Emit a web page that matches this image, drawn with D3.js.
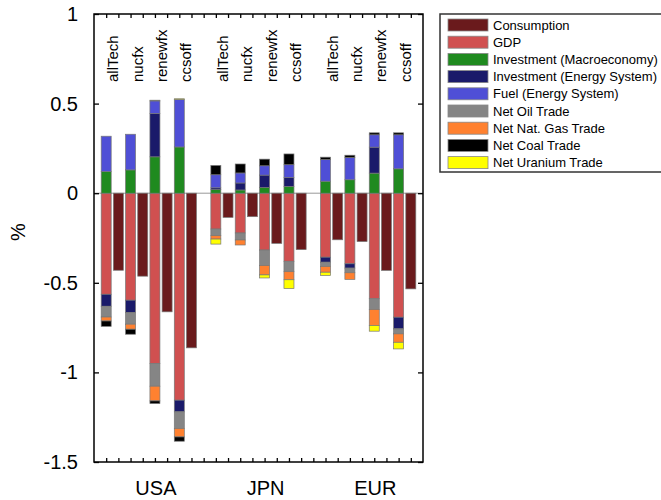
<!DOCTYPE html>
<html>
<head>
<meta charset="utf-8">
<script src="https://d3js.org/d3.v7.min.js"></script>
<style>
  body { margin: 0; background: #fff; }
  text { font-family: "Liberation Sans", Arial, sans-serif; }
</style>
</head>
<body>
<div id="chart"></div>
<script>
// regions and scenarios, values in %
const regions = ["USA", "JPN", "EUR"];
const scenarios = ["allTech", "nucfx", "renewfx", "ccsoff"];

// each array: USA x4, JPN x4, EUR x4 (scenario order as above)
const consumption  = [-0.430, -0.463, -0.662, -0.863,  -0.135, -0.131, -0.280, -0.315,  -0.260, -0.270, -0.431, -0.534];
const gdp          = [-0.564, -0.597, -0.950, -1.155,  -0.200, -0.222, -0.317, -0.380,  -0.357, -0.394, -0.589, -0.692];
const invMacro     = [ 0.121,  0.130,  0.203,  0.258,   0.020,  0.018,  0.032,  0.038,   0.067,  0.075,  0.112,  0.136];
const invEnergy    = [-0.067, -0.069,  0.242, -0.065,   0.010,  0.039,  0.069,  0.050,  -0.028, -0.024,  0.145, -0.065];
const fuel         = [ 0.197,  0.199,  0.070,  0.265,   0.073,  0.056,  0.052,  0.071,   0.121,  0.124,  0.069,  0.190];
const oilTrade     = [-0.060, -0.065, -0.127, -0.093,  -0.037, -0.039, -0.087, -0.058,  -0.024, -0.026, -0.060, -0.028];
const gasTrade     = [-0.022, -0.028, -0.082, -0.047,  -0.019, -0.028, -0.052, -0.045,  -0.032, -0.037, -0.089, -0.047];
const coalTrade    = [-0.030, -0.028, -0.015, -0.024,   0.052,  0.050,  0.037,  0.060,   0.013,  0.013,  0.011,  0.011];
const uraniumTrade = [ 0.000,  0.000,  0.004,  0.004,  -0.028,  0.000, -0.017, -0.049,  -0.018,  0.000, -0.032, -0.037];

const yTicks = [-1.5, -1, -0.5, 0, 0.5, 1];

const legendNames = ["Consumption", "GDP", "Investment (Macroeconomy)", "Investment (Energy System)",
  "Fuel (Energy System)", "Net Oil Trade", "Net Nat. Gas Trade", "Net Coal Trade", "Net Uranium Trade"];
const colors = ["#6a1a1c", "#d05050", "#1f8a1f", "#1a1a6a", "#4f4fd6", "#858585", "#ff8130", "#000000", "#ffff00"];

const stackKeys = ["gdp", "invMacro", "invEnergy", "fuel", "oilTrade", "gasTrade", "coalTrade", "uraniumTrade"];
const stackSeries = [gdp, invMacro, invEnergy, fuel, oilTrade, gasTrade, coalTrade, uraniumTrade];

const W = 661, H = 500;
const frame = {left: 94, right: 423, top: 14, bottom: 462};

const svg = d3.select("#chart").append("svg")
  .attr("width", W).attr("height", H);

// x: one unit per bar, one empty unit between regions
const x = d3.scaleLinear().domain([0, 27]).range([frame.left, frame.right]);
const y = d3.scaleLinear().domain([-1.5, 1]).range([frame.bottom, frame.top]);
const barW = 10;

// rows for the stack, one per region/scenario
const rows = [];
regions.forEach((r, ri) => {
  scenarios.forEach((s, si) => {
    const k = ri * 4 + si;
    const row = {region: r, scenario: s, pos: ri * 9 + si * 2 + 1, cons: consumption[k]};
    stackKeys.forEach((key, j) => { row[key] = stackSeries[j][k]; });
    rows.push(row);
  });
});

const stack = d3.stack().keys(stackKeys).offset(d3.stackOffsetDiverging);
const layers = stack(rows);

// zero line
svg.append("line")
  .attr("x1", frame.left).attr("x2", frame.right)
  .attr("y1", y(0)).attr("y2", y(0))
  .attr("stroke", "#999").attr("stroke-width", 1);

// stacked bars
svg.append("g").selectAll("g")
  .data(layers)
  .join("g")
    .attr("fill", (d, i) => colors[i + 1])
  .selectAll("rect")
  .data(d => d.filter(p => p[0] !== p[1]))
  .join("rect")
    .attr("x", d => x(d.data.pos) - barW / 2)
    .attr("y", d => y(Math.max(d[0], d[1])))
    .attr("width", barW)
    .attr("height", d => Math.abs(y(d[0]) - y(d[1])))
    .attr("stroke", "#777")
    .attr("stroke-width", 0.7);

// consumption bars
svg.append("g").selectAll("rect")
  .data(rows)
  .join("rect")
    .attr("x", d => x(d.pos + 1) - barW / 2)
    .attr("y", d => y(Math.max(0, d.cons)))
    .attr("width", barW)
    .attr("height", d => Math.abs(y(d.cons) - y(0)))
    .attr("fill", colors[0])
    .attr("stroke", "#777")
    .attr("stroke-width", 0.7);

// frame
svg.append("rect")
  .attr("x", frame.left).attr("y", frame.top)
  .attr("width", frame.right - frame.left).attr("height", frame.bottom - frame.top)
  .attr("fill", "none").attr("stroke", "#000").attr("stroke-width", 1.5);

// inward ticks, top and bottom
const xTickPos = d3.range(1, 27);
svg.append("g")
  .attr("transform", `translate(0,${frame.bottom})`)
  .call(d3.axisBottom(x).tickValues(xTickPos).tickSize(-4).tickFormat(""))
  .call(g => g.select(".domain").remove());
svg.append("g")
  .attr("transform", `translate(0,${frame.top})`)
  .call(d3.axisTop(x).tickValues(xTickPos).tickSize(-4).tickFormat(""))
  .call(g => g.select(".domain").remove());

// y axis left (labels) and right (ticks only)
svg.append("g")
  .attr("transform", `translate(${frame.left},0)`)
  .call(d3.axisLeft(y).tickValues(yTicks).tickSize(-5).tickPadding(16).tickFormat(d => String(d)))
  .call(g => g.select(".domain").remove())
  .call(g => g.selectAll("text").attr("font-size", 20).attr("fill", "#000")
    .attr("font-family", "Liberation Sans, Arial, sans-serif"));
svg.append("g")
  .attr("transform", `translate(${frame.right},0)`)
  .call(d3.axisRight(y).tickValues(yTicks).tickSize(-5).tickFormat(""))
  .call(g => g.select(".domain").remove());
svg.selectAll(".tick line").attr("stroke", "#000").attr("stroke-width", 1.3);

// y label
svg.append("text")
  .attr("transform", "translate(25,232) rotate(-90)")
  .attr("text-anchor", "middle")
  .attr("font-size", 20)
  .text("%");

// scenario labels
svg.append("g").selectAll("text")
  .data(rows)
  .join("text")
    .attr("transform", d => `translate(${x(d.pos + 0.5) + 6},82) rotate(-90)`)
    .attr("font-size", 15)
    .text(d => d.scenario);

// region labels
svg.append("g").selectAll("text")
  .data(regions)
  .join("text")
    .attr("x", (d, i) => x(i * 9 + 5) + 1)
    .attr("y", 495)
    .attr("text-anchor", "middle")
    .attr("font-size", 20)
    .text(d => d);

// legend
const lg = svg.append("g");
lg.append("rect")
  .attr("x", 440).attr("y", 14).attr("width", 240).attr("height", 158)
  .attr("fill", "#fff").attr("stroke", "#333").attr("stroke-width", 1.5);
const item = lg.selectAll("g.item")
  .data(legendNames)
  .join("g")
    .attr("class", "item")
    .attr("transform", (d, i) => `translate(448,${25 + i * 17.2})`);
item.append("rect")
  .attr("x", 0).attr("y", -6).attr("width", 40).attr("height", 12)
  .attr("fill", (d, i) => colors[i])
  .attr("stroke", "#888").attr("stroke-width", 0.8);
item.append("text")
  .attr("x", 45).attr("y", 0).attr("dy", "0.35em")
  .attr("font-size", 13)
  .text(d => d);
</script>
</body>
</html>
